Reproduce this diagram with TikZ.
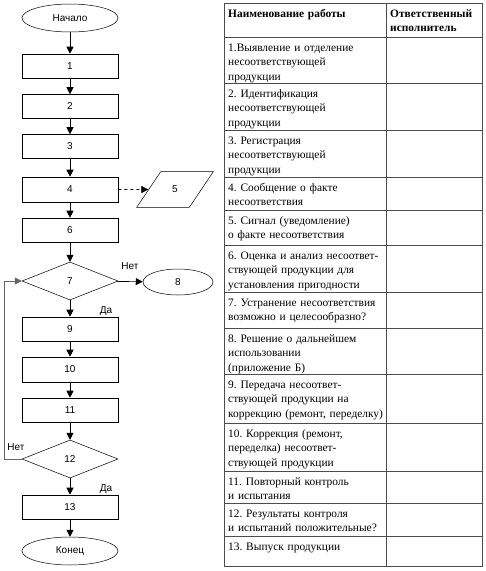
\documentclass[tikz,border=0pt]{standalone}
\usepackage{fontspec}
\setmainfont{Liberation Serif}
\newfontfamily\arialfont{Liberation Sans}
\usetikzlibrary{shapes.geometric,arrows.meta}
\frenchspacing
\tikzset{
 fc/.style={font=\arialfont\fontsize{10}{12}\selectfont},
 proc/.style={draw, rectangle, minimum width=96pt, minimum height=24pt, inner sep=0pt, fc, line width=0.6pt},
 term/.style={draw, ellipse, minimum width=96pt, minimum height=28pt, inner sep=0pt, fc, line width=0.5pt},
 dec/.style={draw, diamond, aspect=2.5, minimum width=96pt, minimum height=38pt, inner sep=0pt, fc, line width=0.5pt},
 arr/.style={-{Triangle[length=7pt,width=7pt]}, line width=0.6pt},
 lbl/.style={fc, inner sep=0pt},
 tline/.style={draw=black!70, line width=0.7pt},
 cell/.style={anchor=base west, inner sep=0pt, text width=158pt, align=left, font=\frenchspacing\fontsize{11.4}{14.7}\selectfont},
 hcell/.style={cell, font=\bfseries\fontsize{11.4}{14.7}\selectfont},
}
\begin{document}
\begin{tikzpicture}[x=1pt,y=-1pt]
\useasboundingbox (0,0) rectangle (486,571);
% ---------- flowchart ----------
\node[term] (start) at (70,18) {Начало};
\node[proc] (b1) at (70,66) {1};
\node[proc] (b2) at (70,106.5) {2};
\node[proc] (b3) at (70,146.5) {3};
\node[proc, minimum height=25pt] (b4) at (70,189.5) {4};
\node[draw, trapezium, trapezium left angle=56, trapezium right angle=124, minimum width=77pt, minimum height=27pt, inner sep=0pt, fc, line width=0.5pt] (p5) at (175,189.5) {5};
\node[proc] (b6) at (70,230) {6};
\node[dec] (d7) at (70,281) {7};
\node[term, minimum width=70pt, minimum height=26pt] (e8) at (178,282) {8};
\node[proc] (b9) at (70,329) {9};
\node[proc, minimum height=25pt] (b10) at (70,369.5) {10};
\node[proc] (b11) at (70,410) {11};
\node[dec] (d12) at (70,459) {12};
\node[proc] (b13) at (70,507) {13};
\node[term] (end) at (70,551) {Конец};

\draw[arr] (start) -- (b1);
\draw[arr] (b1) -- (b2);
\draw[arr] (b2) -- (b3);
\draw[arr] (b3) -- (b4);
\draw[arr, dashed] (b4) -- (p5);
\draw[arr] (b4) -- (b6);
\draw[arr] (b6) -- (d7);
\draw[arr] (d7) -- (e8);
\draw[arr] (d7) -- (b9);
\draw[arr] (b9) -- (b10);
\draw[arr] (b10) -- (b11);
\draw[arr] (b11) -- (d12);
\draw[arr] (d12) -- (b13);
\draw[arr] (b13) -- (end);
\draw[arr, draw=black!60, line width=0.5pt] (d12.west) -- ++(-18,0) |- (d7.west);

\node[lbl] (n1) at (130,266) {Нет};
\node[lbl] (y1) at (106,311) {Да};
\node[lbl] (n2) at (16,447) {Нет};
\node[lbl] (y2) at (106,489) {Да};

% ---------- table ----------
\draw[tline] (224,3) rectangle (482,566);
\draw[tline] (386,3) -- (386,566);
\foreach \y in {37,83,130,177,210,245,292,328,374,423,471,503,536}
  \draw[tline] (224,\y) -- (482,\y);

\node[hcell] (h1) at (228,17) {Наименование работы};
\node[hcell, text width=92pt] (h2) at (390,17) {Ответственный\\исполнитель};
\node[cell] (r1) at (228,51) {1.Выявление и отделение\\несоответствующей\\продукции};
\node[cell] (r2) at (228,97) {2. Идентификация\\несоответствующей\\продукции};
\node[cell] (r3) at (228,144) {3. Регистрация\\несоответствующей\\продукции};
\node[cell] (r4) at (228,191) {4. Сообщение о факте\\несоответствия};
\node[cell] (r5) at (228,224) {5. Сигнал (уведомление)\\о факте несоответствия};
\node[cell] (r6) at (228,259) {6. Оценка и анализ несоответ-\\ствующей продукции для\\установления пригодности};
\node[cell] (r7) at (228,306) {7. Устранение несоответствия\\возможно и целесообразно?};
\node[cell] (r8) at (228,342) {8. Решение о дальнейшем\\использовании\\(приложение Б)};
\node[cell] (r9) at (228,388) {9. Передача несоответ-\\ствующей продукции на\\коррекцию (ремонт, переделку)};
\node[cell] (r10) at (228,437) {10. Коррекция (ремонт,\\переделка) несоответ-\\ствующей продукции};
\node[cell] (r11) at (228,485) {11. Повторный контроль\\и испытания};
\node[cell] (r12) at (228,517) {12. Результаты контроля\\и испытаний положительные?};
\node[cell] (r13) at (228,550) {13. Выпуск продукции};
\end{tikzpicture}
\end{document}
